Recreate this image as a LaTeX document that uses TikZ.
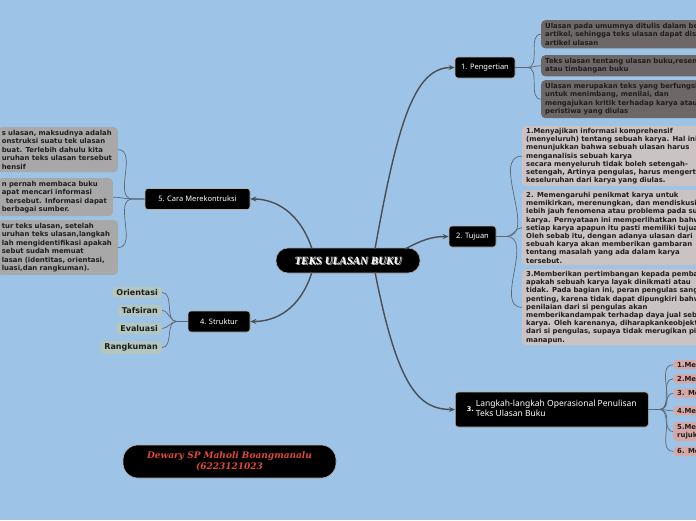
\documentclass[tikz,border=0pt]{standalone}
\usepackage{fontspec}
\usepackage{xcolor}
\usetikzlibrary{arrows.meta}
\setmainfont{DejaVu Sans}
\newfontfamily\handfont{Noto Sans}
\newfontfamily\titlefont{Liberation Serif}
\newfontfamily\namefont{DejaVu Serif}
\definecolor{skyback}{HTML}{9DC3E6}
\definecolor{branchgray}{HTML}{4A4D52}
\definecolor{twiggray}{HTML}{5D6875}
\definecolor{slatebox}{HTML}{6E6767}
\definecolor{rosegray}{HTML}{CBC3C3}
\definecolor{pinkbox}{HTML}{D6A7A7}
\definecolor{sagebox}{HTML}{B3C6BF}
\definecolor{stonebox}{HTML}{A8A8A8}
\definecolor{namered}{HTML}{E2483B}
\definecolor{inkdark}{HTML}{1E1E1E}

\begin{document}
\begin{tikzpicture}[x=1pt,y=-1pt,
    topic/.style={fill=black,draw=gray!60,line width=0.6pt,rounded corners=3pt,text=white,
      font=\handfont\fontsize{7.5}{9}\selectfont,inner xsep=5pt,minimum height=21pt},
    note/.style={rounded corners=4pt,inner xsep=4pt,inner ysep=3pt,align=left,text=inkdark,
      font=\bfseries\fontsize{6.9}{8.4}\selectfont},
    leaf/.style={rounded corners=3pt,fill=sagebox,inner xsep=4pt,inner ysep=2.5pt,text=inkdark,
      font=\bfseries\fontsize{8}{9}\selectfont,anchor=east},
    branch/.style={draw=branchgray,line width=1.4pt,-{Stealth[length=6pt,width=5pt]}},
    twig/.style={draw=twiggray,line width=0.7pt}]
    \fill[skyback] (0,0) rectangle (696,520);
    \useasboundingbox (0,0) rectangle (696,520);
    \clip (0,0) rectangle (696,520);

    % central topic
    \node[fill=black,draw=gray!70,line width=0.6pt,rounded corners=12pt,minimum width=144pt,minimum height=25pt] (root) at (348,260.5) {};
    \node[text=gray!55,font=\titlefont\bfseries\itshape\fontsize{11}{13}\selectfont] (rootshade) at (349,261.5) {TEKS ULASAN BUKU};
    \node[text=white,font=\titlefont\bfseries\itshape\fontsize{11}{13}\selectfont] (rootlabel) at (348,260.5) {TEKS ULASAN BUKU};

    % main topics
    \node[topic,minimum width=60pt] (pen) at (485,67.5) {1. Pengertian};
    \node[topic,minimum width=47pt] (tuj) at (472.5,236.5) {2. Tujuan};
    \node[topic,minimum width=193pt,minimum height=35pt,anchor=west,align=left] (lang) at (455,409.5)
      {{\rmfamily\bfseries\fontsize{6.5}{8}\selectfont 3.}\hspace{2pt}{\fontsize{8.5}{10.5}\selectfont\begin{tabular}[c]{@{}l@{}}Langkah-langkah Operasional Penulisan\\Teks Ulasan Buku\end{tabular}}};
    \node[topic,minimum width=62pt] (str) at (219,321.5) {4. Struktur};
    \node[topic,minimum width=105pt] (cara) at (197.5,199) {5. Cara Merekontruksi};

    \draw[branch] (375,249) .. controls (398,120) and (415,67.5) .. (pen.west);
    \draw[branch] (405,249) .. controls (422,240) and (432,236.5) .. (tuj.west);
    \draw[branch] (375,272) .. controls (398,390) and (420,409.5) .. (lang.west);
    \draw[branch] (312,272) .. controls (300,310) and (275,321.5) .. (str.east);
    \draw[branch] (312,249) .. controls (300,212) and (275,199) .. (cara.east);

    % 1. Pengertian
    \foreach \n/\y/\txt in {
      1/20/{Ulasan pada umumnya ditulis dalam bentuk\\artikel, sehingga teks ulasan dapat disebut\\artikel ulasan},
      2/55/{Teks ulasan tentang ulasan buku,resensi\\atau timbangan buku},
      3/80/{Ulasan merupakan teks yang berfungsi\\untuk menimbang, menilai, dan\\mengajukan kritik terhadap karya atau\\peristiwa yang diulas}
    } {
      \node[note,fill=slatebox,text width=200pt,anchor=north west] (pg\n) at (541,\y) {\txt};
      \draw[twig] (pen.east) -- ++(12,0) to[out=0,in=180] (pg\n.west);
    }

    % 2. Tujuan
    \foreach \n/\y/\txt in {
      1/126/{1.Menyajikan informasi komprehensif\\(menyeluruh) tentang sebuah karya. Hal ini\\menunjukkan bahwa sebuah ulasan harus\\menganalisis sebuah karya\\secara menyeluruh tidak boleh setengah-\\setengah, Artinya pengulas, harus mengerti\\keseluruhan dari karya yang diulas.},
      2/190/{2. Memengaruhi penikmat karya untuk\\memikirkan, merenungkan, dan mendiskusikan\\lebih jauh fenomena atau problema pada suatu\\karya. Pernyataan ini memperlihatkan bahwa\\setiap karya apapun itu pasti memiliki tujuan.\\Oleh sebab itu, dengan adanya ulasan dari\\sebuah karya akan memberikan gambaran\\tentang masalah yang ada dalam karya\\tersebut.},
      3/269/{3.Memberikan pertimbangan kepada pembaca\\apakah sebuah karya layak dinikmati atau\\tidak. Pada bagian ini, peran pengulas sangat\\penting, karena tidak dapat dipungkiri bahwa\\penilaian dari si pengulas akan\\memberikandampak terhadap daya jual sebuah\\karya. Oleh karenanya, diharapkankeobjektifan\\dari si pengulas, supaya tidak merugikan pihak\\manapun.}
    } {
      \node[note,fill=rosegray,inner ysep=2pt,font=\bfseries\fontsize{6.9}{8.2}\selectfont,text width=200pt,anchor=north west] (tj\n) at (522,\y) {\txt};
      \draw[twig] (tuj.east) -- ++(10,0) to[out=0,in=180] (tj\n.west);
    }

    % 3. Langkah-langkah
    \foreach \n/\y/\txt in {1/360/{1.Me},2/374/{2.Me},3/388.5/{3. Me},4/406/{4.Me},5/422/{5.Me\\rujuk},6/446.5/{6. Me}} {
      \node[note,fill=pinkbox,inner ysep=2pt,text width=60pt,anchor=north west] (lk\n) at (673,\y) {\txt};
      \draw[twig] (lang.east) -- ++(11,0) to[out=0,in=180] (lk\n.west);
    }

    % 4. Struktur
    \foreach \n/\y/\txt in {1/292.5/Orientasi,2/310.5/Tafsiran,3/328.5/Evaluasi,4/347.5/Rangkuman} {
      \node[leaf] (st\n) at (162,\y) {\txt};
      \draw[twig] (str.west) -- ++(-11,0) to[out=180,in=0] (st\n.east);
    }

    % 5. Cara Merekontruksi
    \foreach \n/\x/\y/\txt in {
      1/118/127/{s ulasan, maksudnya adalah\\onstruksi suatu tek ulasan\\buat. Terlebih dahulu kita\\uruhan teks ulasan tersebut\\hensif},
      2/113/178/{n pernah membaca buku\\apat mencari informasi\\\hspace*{4pt}tersebut. Informasi dapat\\berbagai sumber.},
      3/118/220/{tur teks ulasan, setelah\\uruhan teks ulasan,langkah\\lah mengidentifikasi apakah\\sebut sudah memuat\\lasan (identitas, orientasi,\\luasi,dan rangkuman).}
    } {
      \node[note,fill=stonebox,text width=\x pt-6pt,anchor=north east] (ck\n) at (\x,\y) {\txt};
      \draw[twig] (cara.west) -- ++(-12,0) to[out=180,in=0] (ck\n.east);
    }

    % author
    \node[fill=black,draw=gray!60,line width=0.6pt,rounded corners=15pt,minimum width=213pt,minimum height=33pt,
      align=center,text=namered,font=\namefont\bfseries\itshape\fontsize{9}{11}\selectfont] (author) at (229.5,461.5)
      {Dewary SP Maholi Boangmanalu\\(6223121023};
\end{tikzpicture}
\end{document}
